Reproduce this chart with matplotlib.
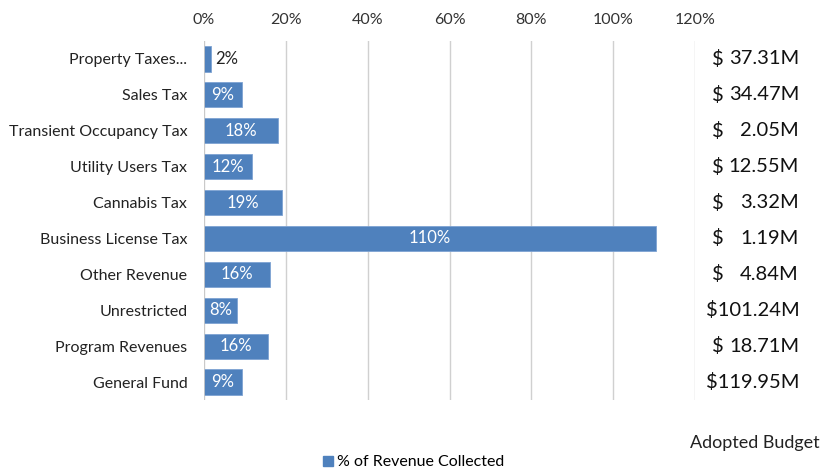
import matplotlib
matplotlib.use("Agg")
import matplotlib.pyplot as plt
import matplotlib.transforms as mtrans
from matplotlib.lines import Line2D

plt.rcParams['font.family'] = ['Lato', 'DejaVu Sans']

categories = ["Property Taxes...", "Sales Tax", "Transient Occupancy Tax", "Utility Users Tax",
              "Cannabis Tax", "Business License Tax", "Other Revenue", "Unrestricted",
              "Program Revenues", "General Fund"]
pct_collected = [1.6, 9.3, 18.1, 11.7, 19.0, 110.4, 16.1, 8.1, 15.6, 9.3]
adopted_budget = [37.31, 34.47, 2.05, 12.55, 3.32, 1.19, 4.84, 101.24, 18.71, 119.95]
xticks = [0, 20, 40, 60, 80, 100, 120]

W, H = 822, 472
fig = plt.figure(figsize=(W/100, H/100), dpi=100)
ax = fig.add_axes([204/W, 1-400/H, (695-204)/W, (400-41)/H])

blue = "#4F81BD"
ypos = list(range(len(categories)))
ax.barh(ypos, pct_collected, height=0.7, color=blue, edgecolor="#7EA3D3", linewidth=0.6, zorder=3)
ax.set_ylim(len(categories)-0.5, -0.5)
ax.set_xlim(0, 120)
ax.set_xticks(xticks)
ax.set_xticklabels([f"{t}%" for t in xticks])
ax.xaxis.tick_top()
ax.tick_params(axis='x', length=0, pad=10, labelsize=11.5, colors="#333333")
ax.set_yticks(ypos)
ax.set_yticklabels(categories)
ax.tick_params(axis='y', length=0, pad=12, labelsize=11.5, colors="#222222")
ax.grid(axis='x', color="#D0D0D0", linewidth=1.0, zorder=0)
for s in ax.spines.values():
    s.set_visible(False)
ax.axvline(0, color="#C8C8C8", linewidth=1.2, zorder=4)

for y, v in zip(ypos, pct_collected):
    lab = f"{round(v)}%"
    if v < 5:
        ax.text(v + 1.2, y, lab, ha='left', va='center', fontsize=12, color="#222222")
    else:
        ax.text(v/2, y, lab, ha='center', va='center', fontsize=12, color="white", zorder=5)

# Adopted budget column
bt = mtrans.blended_transform_factory(fig.transFigure, ax.transData)
for y, b in zip(ypos, adopted_budget):
    if b >= 100:
        ax.text(753/W, y, f"${b:.2f}M", transform=bt, ha='center', va='center', fontsize=14.5, color="#111111")
    else:
        ax.text(712/W, y, "$", transform=bt, ha='left', va='center', fontsize=14.5, color="#111111")
        ax.text(799/W, y, f"{b:.2f}M", transform=bt, ha='right', va='center', fontsize=14.5, color="#111111")

fig.text(820/W, 1-443/H, "Adopted Budget", ha='right', va='center', fontsize=13, color="#222222")

handle = Line2D([], [], marker='s', linestyle='none', color=blue, markersize=7)
fig.legend([handle], ["% of Revenue Collected"], loc='center', bbox_to_anchor=(412/W, 1-462/H),
           frameon=False, fontsize=11.5, handletextpad=0.1, handlelength=1.0)

fig.savefig("out.png", dpi=100)
